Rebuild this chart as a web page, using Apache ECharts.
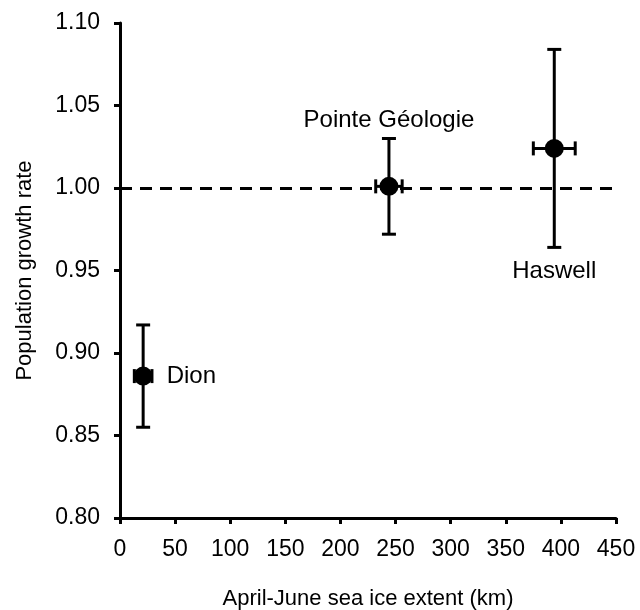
<!DOCTYPE html>
<html lang="en">
  <head>
    <meta charset="utf-8" />
    <title>Population growth rate vs sea ice extent</title>
    <script src="https://cdn.jsdelivr.net/npm/echarts@6/dist/echarts.min.js"></script>
  </head>
  <style>
    * {
      margin: 0;
      padding: 0;
    }

    body {
      width: 640px;
      height: 610px;
      background: #fff;
    }

    #main {
      width: 640px;
      height: 610px;
    }
  </style>
  <body>
    <div id="main"></div>
    <script>
      const sites = ["Dion", "Pointe Géologie", "Haswell"];
      const iceExtent = [21, 244, 394];
      const iceErr = [8, 12, 19];
      const growthRate = [0.886, 1.001, 1.024];
      const growthLow = [0.855, 0.972, 0.964];
      const growthHigh = [0.917, 1.03, 1.084];
      const labelPlaces = ["right", "top", "bottom"];
      const labelGaps = [14, 44, 101];

      const font = "Liberation Sans, Arial, sans-serif";
      const chart = echarts.init(document.getElementById("main"));

      const points = sites.map((name, i) => ({
        name: name,
        value: [iceExtent[i], growthRate[i]],
        label: { position: labelPlaces[i], distance: labelGaps[i] },
      }));

      const bars = sites.map((name, i) => [
        iceExtent[i],
        growthRate[i],
        growthLow[i],
        growthHigh[i],
        iceExtent[i] - iceErr[i],
        iceExtent[i] + iceErr[i],
      ]);

      function renderBars(params, api) {
        const c = api.coord([api.value(0), api.value(1)]);
        const lo = api.coord([api.value(0), api.value(2)]);
        const hi = api.coord([api.value(0), api.value(3)]);
        const left = api.coord([api.value(4), api.value(1)]);
        const right = api.coord([api.value(5), api.value(1)]);
        const cap = 7;
        const style = { stroke: "#000", lineWidth: 3 };
        const line = (x1, y1, x2, y2) => ({
          type: "line",
          shape: { x1, y1, x2, y2 },
          style: style,
        });
        return {
          type: "group",
          children: [
            line(c[0], lo[1], c[0], hi[1]),
            line(c[0] - cap, lo[1], c[0] + cap, lo[1]),
            line(c[0] - cap, hi[1], c[0] + cap, hi[1]),
            line(left[0], c[1], right[0], c[1]),
            line(left[0], c[1] - cap, left[0], c[1] + cap),
            line(right[0], c[1] - cap, right[0], c[1] + cap),
          ],
        };
      }

      const axisCommon = {
        type: "value",
        nameLocation: "middle",
        nameTextStyle: { color: "#000", fontSize: 22, fontFamily: font },
        axisLine: { show: true, lineStyle: { color: "#000", width: 3 } },
        axisTick: { show: true, length: 6, lineStyle: { color: "#000", width: 3 } },
        axisLabel: { color: "#000", fontSize: 23, fontFamily: font },
        splitLine: { show: false },
      };

      const option = {
        animation: false,
        backgroundColor: "#fff",
        grid: {
          left: 120,
          right: 24,
          top: 23,
          bottom: 92,
          containLabel: false,
          outerBoundsMode: "none",
        },
        xAxis: Object.assign({}, axisCommon, {
          min: 0,
          max: 450,
          interval: 50,
          name: "April-June sea ice extent (km)",
          nameGap: 70,
          axisLabel: Object.assign({}, axisCommon.axisLabel, { margin: 20 }),
        }),
        yAxis: Object.assign({}, axisCommon, {
          min: 0.8,
          max: 1.1,
          interval: 0.05,
          name: "Population growth rate",
          nameGap: 84,
          axisLabel: Object.assign({}, axisCommon.axisLabel, {
            margin: 20,
            formatter: (v) => v.toFixed(2),
          }),
        }),
        series: [
          {
            type: "custom",
            renderItem: renderBars,
            data: bars,
            z: 3,
          },
          {
            type: "scatter",
            data: points,
            symbol: "circle",
            symbolSize: 19,
            itemStyle: { color: "#000", opacity: 1 },
            label: {
              show: true,
              formatter: "{b}",
              color: "#000",
              fontSize: 24,
              fontFamily: font,
            },
            z: 4,
            markLine: {
              silent: true,
              symbol: "none",
              label: { show: false },
              lineStyle: { color: "#000", type: [12, 8], width: 3, opacity: 1 },
              data: [{ yAxis: 1.0 }],
            },
          },
        ],
      };

      chart.setOption(option);
    </script>
  </body>
</html>
